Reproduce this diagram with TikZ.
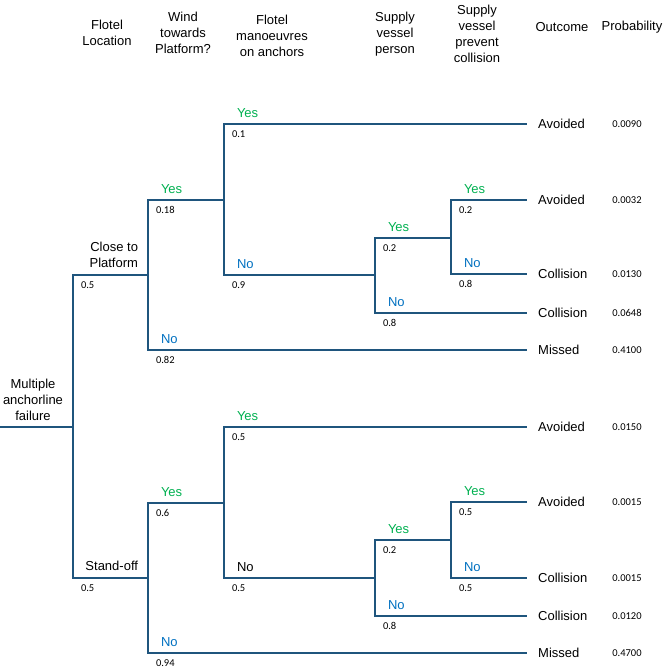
\documentclass[tikz,border=0pt]{standalone}
\usepackage{fontspec}
\setmainfont{Liberation Sans}
\newfontfamily\smallnum{Carlito}

\definecolor{treeblue}{RGB}{31,85,125}
\definecolor{yesgreen}{RGB}{0,176,80}
\definecolor{noblue}{RGB}{0,112,192}

\tikzset{
  branch/.style={draw=treeblue, line width=2pt},
  head/.style={align=center, font=\fontsize{13}{16}\selectfont},
  answer/.style={anchor=base west, inner sep=0pt, xshift=12pt, yshift=6.5pt, font=\fontsize{13}{16}\selectfont},
  chance/.style={anchor=base west, inner sep=0pt, xshift=7pt, yshift=-13pt, font=\smallnum\fontsize{10.5}{12}\selectfont},
  optlabel/.style={anchor=south east, inner sep=0pt, align=right, xshift=-9pt, yshift=6pt, font=\fontsize{13}{16}\selectfont},
  outcome/.style={anchor=west, inner xsep=11pt, inner ysep=0pt, font=\fontsize{13}{16}\selectfont},
  probval/.style={inner sep=0pt, font=\smallnum\fontsize{10.5}{12}\selectfont}
}

\begin{document}
\begin{tikzpicture}[x=1pt, y=-1pt]
\useasboundingbox (0,0) rectangle (667,670);

% column headings
\foreach \x/\y/\txt in {107/33/{Flotel\\Location}, 183/33/{Wind\\towards\\Platform?},
  272/36/{Flotel\\manoeuvres\\on anchors}, 395/34/{Supply\\vessel\\person},
  477/34/{Supply\\vessel\\prevent\\collision}, 562/27/Outcome, 632/27/Probability}
  \node[head] (h-\x) at (\x,\y) {\txt};

% root event
\node[head] (root) at (33,400) {Multiple\\anchorline\\failure};
\coordinate (start) at (0,427);
\coordinate (c0) at (73,427);
\draw[branch] (start) -- (c0);

% chance points
\coordinate (c1) at (148,275);
\coordinate (c2) at (148,578);
\coordinate (a1) at (224,200);
\coordinate (b2) at (375,275);
\coordinate (d1) at (451,238);
\coordinate (a3) at (224,503);
\coordinate (b4) at (375,578);
\coordinate (d3) at (451,540);

% outcomes and probabilities
\foreach \n/\y/\out/\p in {1/124/Avoided/0.0090, 2/200/Avoided/0.0032,
  3/274/Collision/0.0130, 4/313/Collision/0.0648, 5/350/Missed/0.4100,
  6/427/Avoided/0.0150, 7/502/Avoided/0.0015, 8/578/Collision/0.0015,
  9/616/Collision/0.0120, 10/653/Missed/0.4700} {
  \node[outcome] (o\n) at (527,\y) {\out};
  \node[probval] (p\n) at (627,\y) {\p};
}

% flotel location
\draw[branch] (c0) |- (c1) node[pos=1, optlabel] (loc1) {Close to\\Platform}
  node[pos=0.5, chance] (pr-c1) {0.5};
\draw[branch] (c0) |- (c2) node[pos=1, optlabel] (loc2) {Stand-off}
  node[pos=0.5, chance] (pr-c2) {0.5};

% remaining branches
\foreach \src/\dst/\ans/\col/\p in {
  c1/a1/Yes/yesgreen/0.18, c1/o5/No/noblue/0.82,
  a1/o1/Yes/yesgreen/0.1, a1/b2/No/noblue/0.9,
  b2/d1/Yes/yesgreen/0.2, b2/o4/No/noblue/0.8,
  d1/o2/Yes/yesgreen/0.2, d1/o3/No/noblue/0.8,
  c2/a3/Yes/yesgreen/0.6, c2/o10/No/noblue/0.94,
  a3/o6/Yes/yesgreen/0.5, a3/b4/No/black/0.5,
  b4/d3/Yes/yesgreen/0.2, b4/o9/No/noblue/0.8,
  d3/o7/Yes/yesgreen/0.5, d3/o8/No/noblue/0.5}
  \draw[branch] (\src) |- (\dst)
    node[pos=0.5, answer, text=\col] (ans-\dst) {\ans}
    node[pos=0.5, chance] (pr-\dst) {\p};

\end{tikzpicture}
\end{document}
